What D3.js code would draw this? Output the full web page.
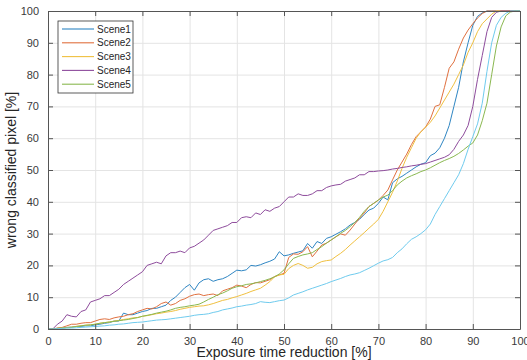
<!DOCTYPE html>
<html>
<head>
<meta charset="utf-8">
<script src="https://cdn.jsdelivr.net/npm/d3@7"></script>
<style>
  body { margin: 0; background: #fff; }
  svg { font-family: "Liberation Sans", Arial, sans-serif; }
  .tick text { fill: #3a3a3a; font-size: 11px; }
</style>
</head>
<body>
<svg id="chart"></svg>
<script>
// Data (x = exposure time reduction in %)
const xValues = d3.range(0, 101);

const scene1 = [0,0,0.2,0.3,0.5,0.6,0.8,0.8,1,1,1.3,1.5,1.8,2,2.5,2.5,5,4.5,4.5,5,5.5,5.8,6.5,6.5,7,7.5,9,10,11.5,13,14,12.2,14.5,15.5,15.8,15,15.5,15.8,16.5,17.5,18.5,18.3,18.6,20,19.8,20.2,20.8,21.3,22,24.3,23,23.3,23.8,24.2,24.6,26.9,25.4,27.5,26.9,28.5,29,29.8,30.6,31.5,32.7,33.5,34.5,36,37.4,38,39.5,41.5,40.6,46,47.2,48,49,50,51,51.8,52.3,54.5,55.3,57,60,64,70,76,84,90,95.5,98.3,99.4,100,100,100,100,100,100,100,100];
const scene2 = [0,0,0.3,0.5,1,1.5,1.5,1.8,2,2,2.5,3,3.2,3,3.5,3.8,4,4.5,4.8,5.5,6,6.5,6.3,7,8,8.5,7.5,8,9,9.5,10.3,10.8,11,10.5,10.8,11,10.5,12,12.5,13,13.8,13.5,13,14,14.6,14.5,15,15.5,16.5,17,17.5,22.5,23.6,23.5,24.3,25.9,22.7,24.5,26.4,27,28,29,29.9,29.5,31.1,33,34.8,36.5,38.5,39.5,40.5,42,43.7,46.9,50,52.5,55,58,60.5,62,63.5,66,70,70.5,76,82,84,88,91.5,94,96,97.8,99.2,100,100,100,100,100,100,100,100];
const scene3 = [0,0,0.2,0.3,0.5,0.6,0.8,1,1.2,1.3,1.5,1.8,2,2.2,2.5,2.7,3,3.2,3.5,3.6,4,4.2,4.5,4.8,5,5.3,5.5,5.8,6.2,6.5,6.8,7,7.2,7.3,7.6,8,8.5,9,9.3,9.8,10.2,10.7,11.2,11.8,12.3,12.8,13.8,14.9,16.4,17,17.2,19,20,20.6,20,19.1,19.4,20.5,21.2,21.5,21.7,22.8,23.8,25,26.4,27.7,29,30.3,31.7,33,34.5,37,40,43,46.5,50.5,54,57,60,62,63.5,65,67,69.5,72,74.5,77,80,83,87,90,93.5,96,97.5,99,100,100,100,100,100,100];
const scene4 = [0,0,1.5,2.5,4.5,4,3.8,5.5,6,8.5,9,9.5,10.5,10.5,11.5,12.5,14,15,16,17,18,20,20.5,21,20.5,23,24,24,24.5,24,25.5,26,27,28,29.5,31,31.5,32,32.5,33.5,33.5,35,35.3,35,36.5,36,37.5,37,38,38.5,40,41.5,41.5,42.5,42,42,42.5,43.5,43.5,44.5,45,45.3,45.5,46.5,47,47.5,48.5,48.5,49.5,49.5,49.7,49.8,50,50.3,50.5,50.8,51,51.3,51.5,51.8,52,52.5,53,53.5,54,54.8,56.5,59,61,64,70,78.5,86,93.5,98,99.6,100,100,100,100,100];
const scene5 = [0,0,0.2,0.3,0.4,0.5,0.8,1,1.2,1.3,1.5,1.8,2,2.2,2.4,2.6,2.8,3,3.3,3.6,4,4.3,4.6,5,5.3,5.6,6,6.5,6.8,7,7.3,7.5,7.8,8.5,9.3,10,10.8,11.3,12,12.8,13.3,13.6,14,14.2,14.5,14.9,15.3,15.8,16.4,17.3,18.6,20.5,22.2,22.8,23.3,23.6,24,25,25.9,27,28,29,30.1,31,32.2,33.5,35.1,37,38.5,39.5,40.6,41.5,42.1,43.5,45.3,46.5,47.5,48.2,48.8,49.5,50,50.7,51.5,52.3,53,53.6,54.3,55.2,56.3,57.5,58.5,61,65.5,71,80,89,95,98.5,99.7,100,100];
const scene6 = [0,0,0.1,0.2,0.3,0.3,0.4,0.5,0.6,0.7,0.8,0.9,1,1.2,1.3,1.5,1.6,1.8,2,2.1,2.2,2.4,2.6,2.8,2.9,3,3.2,3.4,3.6,3.8,4,4.3,4.5,4.6,4.8,5.2,5.5,6,6.3,6.6,7,7.2,7.5,7.7,8,8.6,8.4,8.3,8.6,8.9,9.1,9.8,10.7,11.2,11.7,12.3,12.8,13.3,13.8,14.3,14.9,15.4,15.9,16.5,17,17.3,17.7,18.4,19.1,19.9,20.7,21.4,21.8,22.5,24,25.2,26.8,28.2,29,30,31.2,33,36,38.5,41,43.5,46,48.5,52,56.5,60.5,64.5,71,81,90,95.5,98,99.3,100,100,100];

const seriesNames = ['Scene1', 'Scene2', 'Scene3', 'Scene4', 'Scene5', ''];
const seriesValues = [scene1, scene2, scene3, scene4, scene5, scene6];
const colors = ['#2f86c3', '#e0703f', '#f0c040', '#8e4c9c', '#8ab850', '#6fcbee'];
const xTicks = [0, 10, 20, 30, 40, 50, 60, 70, 80, 90, 100];
const yTicks = [0, 10, 20, 30, 40, 50, 60, 70, 80, 90, 100];

// Chart dimensions
const margin = { top: 11, right: 7, bottom: 31, left: 48 };
const width = 527 - margin.left - margin.right;
const height = 360 - margin.top - margin.bottom;

const svg = d3.select('#chart')
  .attr('width', 527)
  .attr('height', 360);

const g = svg.append('g')
  .attr('transform', `translate(${margin.left}, ${margin.top})`);

const xScale = d3.scaleLinear().domain([0, 100]).range([0, width]);
const yScale = d3.scaleLinear().domain([0, 100]).range([height, 0]);

// Grid
g.append('g')
  .attr('transform', `translate(0, ${height})`)
  .call(d3.axisBottom(xScale).tickValues(xTicks).tickSize(-height).tickFormat(''))
  .call(a => a.select('.domain').remove())
  .selectAll('line').attr('stroke', '#e4e4e4');

g.append('g')
  .call(d3.axisLeft(yScale).tickValues(yTicks).tickSize(-width).tickFormat(''))
  .call(a => a.select('.domain').remove())
  .selectAll('line').attr('stroke', '#e4e4e4');

// Lines
const line = d3.line()
  .x((d, i) => xScale(xValues[i]))
  .y(d => yScale(d));

seriesValues.forEach((vals, k) => {
  g.append('path')
    .datum(vals)
    .attr('fill', 'none')
    .attr('stroke', colors[k])
    .attr('stroke-width', 1)
    .attr('d', line);
});

// Axes (ticks point inward, box on)
const axisColor = '#555';
const styleAxis = a => {
  a.select('.domain').attr('stroke', axisColor);
  a.selectAll('.tick line').attr('stroke', axisColor);
};

g.append('g')
  .attr('transform', `translate(0, ${height})`)
  .call(d3.axisBottom(xScale).tickValues(xTicks).tickSizeInner(-5).tickSizeOuter(0).tickPadding(8))
  .call(styleAxis);

g.append('g')
  .call(d3.axisLeft(yScale).tickValues(yTicks).tickSizeInner(-5).tickSizeOuter(0).tickPadding(9))
  .call(styleAxis);

g.append('g')
  .call(d3.axisTop(xScale).tickValues(xTicks).tickSizeInner(-5).tickSizeOuter(0).tickFormat(''))
  .call(styleAxis);

g.append('g')
  .attr('transform', `translate(${width}, 0)`)
  .call(d3.axisRight(yScale).tickValues(yTicks).tickSizeInner(-5).tickSizeOuter(0).tickFormat(''))
  .call(styleAxis);

// Axis labels
svg.append('text')
  .attr('x', margin.left + width / 2)
  .attr('y', 357)
  .attr('text-anchor', 'middle')
  .attr('font-size', 14)
  .attr('fill', '#262626')
  .text('Exposure time reduction [%]');

svg.append('text')
  .attr('transform', `translate(16, ${margin.top + height / 2}) rotate(-90)`)
  .attr('text-anchor', 'middle')
  .attr('font-size', 14)
  .attr('fill', '#262626')
  .text('wrong classified pixel [%]');

// Legend
const legend = g.append('g')
  .attr('transform', 'translate(10, 10)');

legend.append('rect')
  .attr('width', 75)
  .attr('height', 72)
  .attr('fill', '#fff')
  .attr('stroke', '#333')
  .attr('stroke-width', 0.8);

seriesNames.slice(0, 5).forEach((name, k) => {
  const yy = 8 + k * 13.8;
  legend.append('line')
    .attr('x1', 4).attr('x2', 36)
    .attr('y1', yy).attr('y2', yy)
    .attr('stroke', colors[k])
    .attr('stroke-width', 1.1);
  legend.append('text')
    .attr('x', 39)
    .attr('y', yy + 3.5)
    .attr('font-size', 10)
    .attr('fill', '#262626')
    .text(name);
});
</script>
</body>
</html>
